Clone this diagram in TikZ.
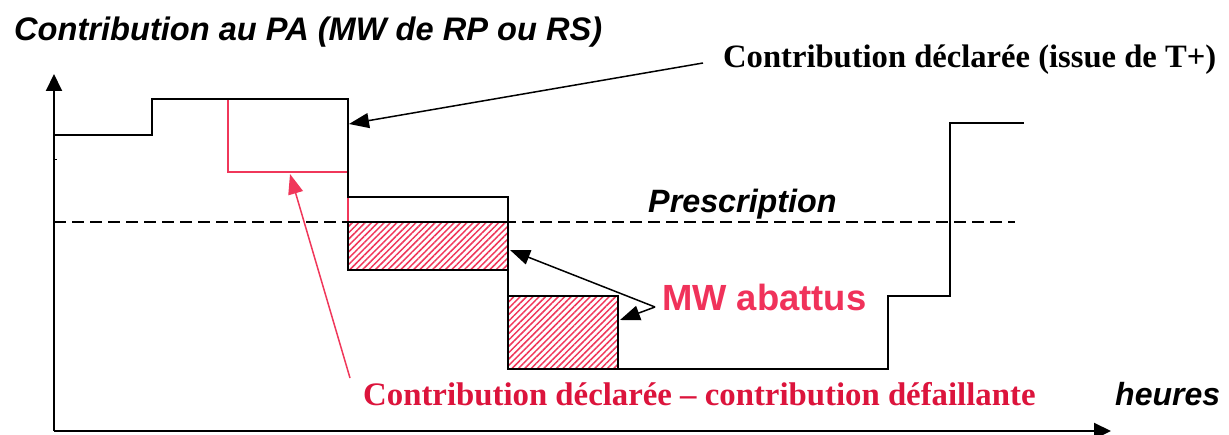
\documentclass[tikz,border=0pt]{standalone}
\usepackage{fontspec}
\setmainfont{Liberation Serif}
\setsansfont{Liberation Sans}
\usetikzlibrary{arrows.meta,patterns.meta}
\definecolor{redline}{RGB}{240,55,90}
\definecolor{redtxt}{RGB}{220,20,60}
\definecolor{mwred}{RGB}{240,50,90}
\begin{document}
\begin{tikzpicture}[x=1pt,y=-1pt,
  blk/.style={line width=1.8pt,black,line join=miter},
  axis/.style={line width=2pt,black,-{Triangle[length=17pt,width=16pt]}},
  arr/.style={line width=1.5pt,-{Triangle[length=20pt,width=15pt]}},
  redl/.style={line width=1.6pt,redline},
  hatch/.style={pattern={Lines[angle=45,distance=4.5pt,line width=1.5pt]},pattern color=redline},
  sflab/.style={inner sep=0pt,font=\sffamily\bfseries\itshape\fontsize{32.6}{38}\selectfont},
  rmlab/.style={inner sep=0pt,font=\rmfamily\bfseries\fontsize{32.6}{38}\selectfont}]
\useasboundingbox[fill=white] (0,0) rectangle (1229,435);

% axes
\coordinate (O) at (54,431);
\coordinate (ytip) at (54,74);
\coordinate (xtip) at (1111,431);
\draw[axis] (O) -- (ytip);
\draw[axis] (O) -- (xtip);
\draw[line width=1pt] (54,160) -- (57,160);

% hatched boxes
\path[fill=white] (348,222) rectangle (508,270);
\path[hatch] (348,222) rectangle (508,270);
\path[fill=white] (508,296) rectangle (618,369);
\path[hatch] (508,296) rectangle (618,369);

% red (defaillante) line
\draw[redl] (228,99) -- (228,172) -- (348,172) -- (348,222);

% black declared contribution
\draw[blk] (54,135) -- (152,135) -- (152,99) -- (348,99) -- (348,197) -- (508,197)
  -- (508,369) -- (888,369) -- (888,296) -- (950,296) -- (950,123) -- (1024,123);
\draw[line width=1.6pt] (348,222) rectangle (508,270);
\draw[line width=1.6pt] (508,296) rectangle (618,369);

% prescription
\draw[line width=1.6pt,dash pattern=on 12pt off 6pt] (54,222) -- (1015,222);

% texts
\node[sflab,anchor=base west] (title) at (14,41) {Contribution au PA (MW de RP ou RS)};
\node[rmlab,anchor=base west] (decl) at (723,68) {Contribution déclarée (issue de T+)};
\node[sflab,anchor=base west,font=\sffamily\bfseries\itshape\fontsize{32.3}{38}\selectfont] (presc) at (648,213) {Prescription};
\node[inner sep=0pt,anchor=base west,text=mwred,font=\sffamily\bfseries\fontsize{36.4}{40}\selectfont] (mw) at (662,311) {MW abattus};
\node[rmlab,anchor=base west,text=redtxt,font=\rmfamily\bfseries\fontsize{32.8}{38}\selectfont] (defl) at (363,406) {Contribution déclarée – contribution défaillante};
\node[sflab,anchor=base west,font=\sffamily\bfseries\itshape\fontsize{32}{38}\selectfont] (heures) at (1115,406) {heures};

% arrows
\coordinate (a1s) at (703,63);
\coordinate (a1e) at (349,124);
\draw[arr] (a1s) -- (a1e);
\coordinate (a2s) at (350,378);
\coordinate (a2e) at (290,174);
\draw[arr,redline] (a2s) -- (a2e);
\coordinate (mwj) at (655,307);
\coordinate (mw1) at (510,250);
\coordinate (mw2) at (620,320);
\draw[arr] (mwj) -- (mw1);
\draw[arr] (mwj) -- (mw2);
\end{tikzpicture}
\end{document}
